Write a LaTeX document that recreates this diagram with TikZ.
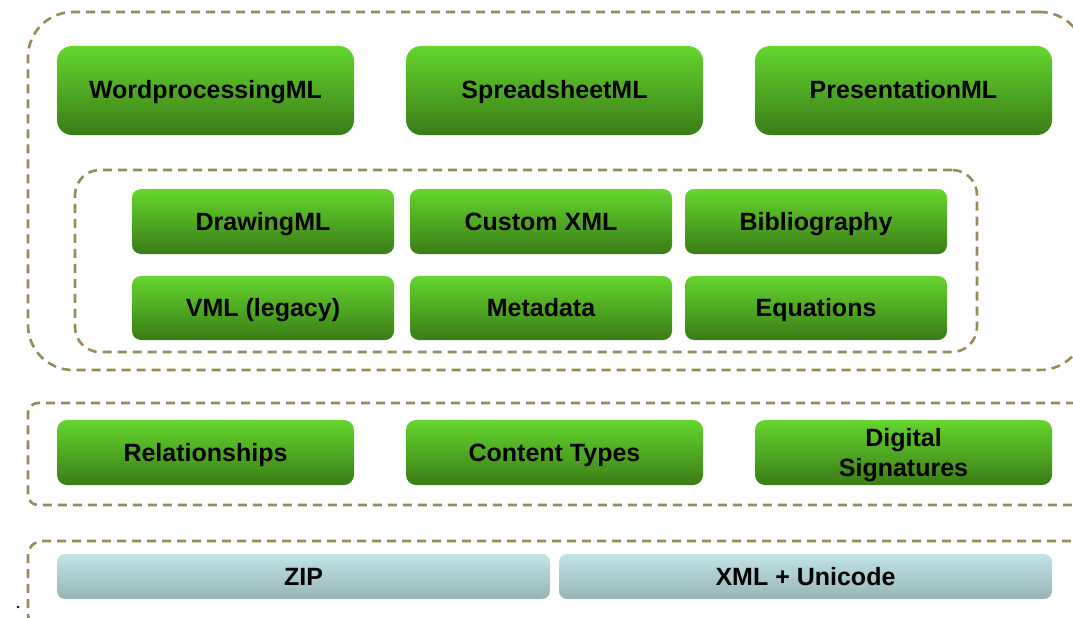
\documentclass[tikz,border=0pt]{standalone}
\usepackage{fontspec}
\setmainfont{Liberation Sans}
\definecolor{dashc}{RGB}{152,139,88}
\definecolor{gtop}{RGB}{100,214,46}
\definecolor{gbot}{RGB}{58,124,22}
\definecolor{btop}{RGB}{192,228,232}
\definecolor{bbot}{RGB}{150,180,182}
\tikzset{
  layer/.style={draw=dashc, line width=2.6pt, dash pattern=on 9pt off 6pt, inner sep=0pt},
  gbox/.style={top color=gtop, bottom color=gbot, draw=none, inner sep=0pt, align=center,
    text height=20pt, text depth=3pt,
    font=\fontsize{25}{30}\selectfont\bfseries},
  bbox/.style={top color=btop, bottom color=bbot, draw=none, inner sep=0pt, align=center,
    text height=20pt, text depth=3pt,
    rounded corners=8pt, font=\fontsize{25}{30}\selectfont\bfseries},
  big/.style={gbox, minimum width=297pt, minimum height=89pt, rounded corners=15pt},
  mid/.style={gbox, minimum width=262pt, minimum height=65pt, rounded corners=9pt},
  low/.style={gbox, minimum width=297pt, minimum height=65pt, rounded corners=10pt},
}
\begin{document}
\begin{tikzpicture}[x=1pt,y=-1pt]
\useasboundingbox (0,0) rectangle (1073,618);
% dashed layers
\node[layer, rounded corners=45pt, minimum width=1057pt, minimum height=358pt] (lay1) at (556.5,191) {};
\node[layer, rounded corners=25pt, minimum width=902pt, minimum height=182pt] (lay1in) at (526,261) {};
\node[layer, rounded corners=10pt, minimum width=1057pt, minimum height=102pt] (lay2) at (556.5,454) {};
\node[layer, rounded corners=14pt, minimum width=1057pt, minimum height=87pt] (lay3) at (556.5,584.5) {};
% row 1
\node[big] (wml) at (205.5,90.5) {WordprocessingML};
\node[big] (sml) at (554.5,90.5) {SpreadsheetML};
\node[big] (pml) at (903.5,90.5) {PresentationML};
% row 2
\node[mid] (dml) at (263,221.5) {DrawingML};
\node[mid] (cxml) at (541,221.5) {Custom XML};
\node[mid] (bib) at (816,221.5) {Bibliography};
% row 3
\node[mid, minimum height=64pt] (vml) at (263,308) {VML (legacy)};
\node[mid, minimum height=64pt] (meta) at (541,308) {Metadata};
\node[mid, minimum height=64pt] (eq) at (816,308) {Equations};
% row 4
\node[low] (rel) at (205.5,452.5) {Relationships};
\node[low] (ct) at (554.5,452.5) {Content Types};
\node[low, text height=, text depth=0pt] (dsig) at (903.5,452.5) {Digital\\Signatures};
% row 5
\node[bbox, minimum width=493pt, minimum height=45pt] (zip) at (303.5,576.5) {ZIP};
\node[bbox, minimum width=493pt, minimum height=45pt] (xmlu) at (805.5,576.5) {XML + Unicode};
% stray dot
\fill (18,607) circle (1.3pt);
\end{tikzpicture}
\end{document}
